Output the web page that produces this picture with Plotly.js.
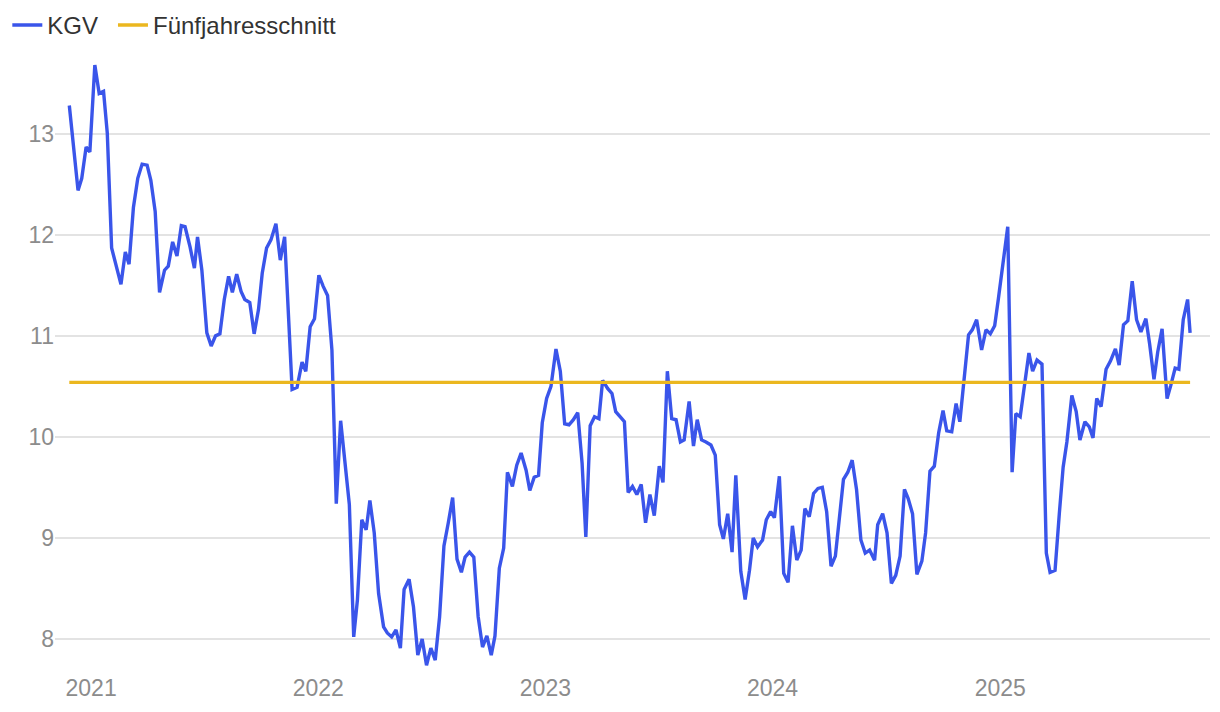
<!DOCTYPE html>
<html>
<head>
<meta charset="utf-8">
<script src="https://cdn.plot.ly/plotly-3.0.1.min.js"></script>
<style>html,body{margin:0;padding:0;background:#fff;}#chart{width:1220px;height:712px;}</style>
</head>
<body>
<div id="chart"></div>
<script>
const dates = [
"2020-11-27","2020-12-11","2020-12-17","2020-12-24","2020-12-30","2021-01-07","2021-01-14","2021-01-21","2021-01-27","2021-02-03",
"2021-02-18","2021-02-25","2021-03-03","2021-03-10","2021-03-17","2021-03-24","2021-04-01","2021-04-07","2021-04-14","2021-04-21",
"2021-04-29","2021-05-05","2021-05-12","2021-05-19","2021-05-26","2021-06-01","2021-06-09","2021-06-16","2021-06-21","2021-06-28",
"2021-07-06","2021-07-13","2021-07-20","2021-07-27","2021-08-03","2021-08-10","2021-08-16","2021-08-23","2021-08-30","2021-09-05",
"2021-09-13","2021-09-20","2021-09-27","2021-10-03","2021-10-10","2021-10-17","2021-10-25","2021-11-01","2021-11-08","2021-11-15",
"2021-11-20","2021-11-28","2021-12-06","2021-12-12","2021-12-19","2021-12-26","2022-01-02","2022-01-09","2022-01-16","2022-01-23",
"2022-01-30","2022-02-06","2022-02-13","2022-02-20","2022-02-27","2022-03-05","2022-03-12","2022-03-19","2022-03-25","2022-04-01",
"2022-04-08","2022-04-16","2022-04-22","2022-04-29","2022-05-06","2022-05-13","2022-05-19","2022-05-27","2022-06-03","2022-06-10",
"2022-06-17","2022-06-24","2022-07-01","2022-07-08","2022-07-15","2022-07-22","2022-07-29","2022-08-05","2022-08-12","2022-08-19",
"2022-08-25","2022-09-01","2022-09-08","2022-09-15","2022-09-22","2022-09-29","2022-10-06","2022-10-12","2022-10-19","2022-10-26",
"2022-11-01","2022-11-09","2022-11-16","2022-11-23","2022-12-01","2022-12-07","2022-12-14","2022-12-21","2022-12-27","2023-01-03",
"2023-01-10","2023-01-18","2023-01-25","2023-02-01","2023-02-08","2023-02-15","2023-02-22","2023-03-01","2023-03-07","2023-03-14",
"2023-03-21","2023-03-28","2023-04-03","2023-04-11","2023-04-18","2023-04-24","2023-05-01","2023-05-08","2023-05-14","2023-05-21",
"2023-05-28","2023-06-04","2023-06-11","2023-06-18","2023-06-25","2023-07-03","2023-07-09","2023-07-16","2023-07-23","2023-07-30",
"2023-08-06","2023-08-12","2023-08-20","2023-08-27","2023-09-02","2023-09-09","2023-09-16","2023-09-24","2023-10-01","2023-10-08",
"2023-10-14","2023-10-21","2023-10-28","2023-11-03","2023-11-11","2023-11-18","2023-11-25","2023-12-01","2023-12-08","2023-12-16",
"2023-12-22","2023-12-29","2024-01-04","2024-01-12","2024-01-19","2024-01-26","2024-02-02","2024-02-09","2024-02-16","2024-02-22",
"2024-02-29","2024-03-07","2024-03-14","2024-03-21","2024-03-28","2024-04-04","2024-04-11","2024-04-24","2024-05-01","2024-05-08",
"2024-05-15","2024-05-22","2024-05-29","2024-06-05","2024-06-13","2024-06-18","2024-06-26","2024-07-03","2024-07-10","2024-07-17",
"2024-07-24","2024-07-31","2024-08-06","2024-08-13","2024-08-20","2024-08-28","2024-09-03","2024-09-10","2024-09-17","2024-09-24",
"2024-10-01","2024-10-07","2024-10-15","2024-10-22","2024-10-28","2024-11-04","2024-11-11","2024-11-17","2024-11-24","2024-12-02",
"2024-12-09","2024-12-16","2024-12-23","2024-12-29","2025-01-05","2025-01-13","2025-01-20","2025-01-26","2025-02-02","2025-02-09",
"2025-02-16","2025-02-22","2025-03-01","2025-03-09","2025-03-16","2025-03-22","2025-03-30","2025-04-06","2025-04-12","2025-04-18",
"2025-04-26","2025-05-03","2025-05-09","2025-05-17","2025-05-24","2025-05-30","2025-06-05","2025-06-12","2025-06-20","2025-06-27",
"2025-07-05","2025-07-11","2025-07-18","2025-07-25","2025-08-01","2025-08-08","2025-08-15","2025-08-23","2025-08-29","2025-09-05",
"2025-09-11","2025-09-18","2025-09-26","2025-10-02","2025-10-09","2025-10-15","2025-10-22","2025-10-29","2025-11-02"
];
const kgv = [
13.28,12.44,12.56,12.87,12.82,13.68,13.40,13.42,13.01,11.87,
11.51,11.83,11.71,12.27,12.56,12.70,12.69,12.54,12.23,11.43,
11.65,11.69,11.93,11.79,12.09,12.08,11.88,11.67,11.98,11.65,
11.03,10.90,11.00,11.02,11.36,11.59,11.43,11.61,11.44,11.36,
11.33,11.02,11.26,11.62,11.87,11.95,12.11,11.75,11.98,11.16,
10.47,10.49,10.74,10.65,11.09,11.17,11.60,11.49,11.40,10.86,
9.34,10.16,9.74,9.33,8.02,8.39,9.18,9.08,9.37,9.05,
8.45,8.12,8.06,8.02,8.09,7.91,8.49,8.59,8.32,7.84,
8.00,7.74,7.91,7.79,8.22,8.92,9.15,9.40,8.79,8.66,
8.81,8.86,8.81,8.22,7.92,8.03,7.84,8.03,8.70,8.90,
9.65,9.51,9.72,9.84,9.67,9.47,9.60,9.62,10.14,10.38,
10.50,10.87,10.65,10.13,10.12,10.17,10.24,9.74,9.01,10.11,
10.20,10.18,10.56,10.48,10.43,10.25,10.20,10.15,9.45,9.51,
9.43,9.53,9.15,9.43,9.22,9.71,9.55,10.65,10.18,10.17,
9.95,9.97,10.35,9.91,10.17,9.97,9.95,9.92,9.82,9.13,
8.99,9.24,8.86,9.62,8.67,8.39,8.68,9.00,8.91,8.98,
9.18,9.26,9.20,9.61,8.65,8.56,9.12,8.78,8.88,9.29,
9.21,9.44,9.49,9.50,9.26,8.72,8.82,9.58,9.65,9.77,
9.48,8.98,8.85,8.88,8.78,9.13,9.24,9.05,8.55,8.63,
8.82,9.48,9.39,9.24,8.64,8.77,9.05,9.66,9.71,10.04,
10.26,10.06,10.05,10.33,10.15,10.58,11.01,11.06,11.16,10.86,
11.06,11.02,11.10,11.37,11.72,12.08,9.65,10.23,10.20,10.50,
10.83,10.65,10.76,10.72,8.85,8.66,8.68,9.25,9.70,9.95,
10.41,10.25,9.97,10.15,10.10,9.99,10.38,10.30,10.67,10.75,
10.87,10.71,11.11,11.15,11.54,11.16,11.04,11.17,10.92,10.57,
10.84,11.07,10.38,10.51,10.68,10.67,11.16,11.36,11.03
];
const avgDates = ["2020-11-27","2025-11-02"];
const avgValues = [10.54, 10.54];
const yTicks = [8, 9, 10, 11, 12, 13];
const xTickDates = ["2021-01-01","2022-01-01","2023-01-01","2024-01-01","2025-01-01"];
const xTickLabels = ["2021","2022","2023","2024","2025"];

const traces = [
  {x: dates, y: kgv, type: 'scatter', mode: 'lines', name: 'KGV', legend: 'legend',
   line: {color: '#3a55ea', width: 3.4}, hoverinfo: 'skip'},
  {x: avgDates, y: avgValues, type: 'scatter', mode: 'lines', name: 'Fünfjahresschnitt', legend: 'legend2',
   line: {color: '#ebb71f', width: 3.4}, hoverinfo: 'skip'}
];
const legendBase = {orientation: 'h', xref: 'container', y: 0.996, yref: 'container', yanchor: 'top',
           font: {size: 24, color: '#333'}, itemwidth: 30, bgcolor: 'rgba(0,0,0,0)'};
const layout = {
  width: 1220, height: 712,
  margin: {l: 55, r: 10, t: 55, b: 40},
  paper_bgcolor: '#fff', plot_bgcolor: '#fff',
  font: {family: 'Liberation Sans, Arial, sans-serif', size: 23, color: '#8c8c8c'},
  showlegend: true,
  legend: Object.assign({}, legendBase, {x: 0.006}),
  legend2: Object.assign({}, legendBase, {x: 0.0926}),
  xaxis: {type: 'date', range: ['2020-11-04', '2025-12-04'], showgrid: false, zeroline: false,
          showline: false, tickvals: xTickDates, ticktext: xTickLabels, ticks: '',
          tickfont: {size: 23, color: '#8c8c8c'}},
  yaxis: {range: [7.673, 13.78], tickvals: yTicks, showgrid: true, gridcolor: '#e3e3e3', gridwidth: 1.5,
          zeroline: false, showline: false, ticks: '', tickfont: {size: 23, color: '#8c8c8c'}}
};
Plotly.newPlot('chart', traces, layout, {displayModeBar: false, staticPlot: true});
</script>
</body>
</html>
